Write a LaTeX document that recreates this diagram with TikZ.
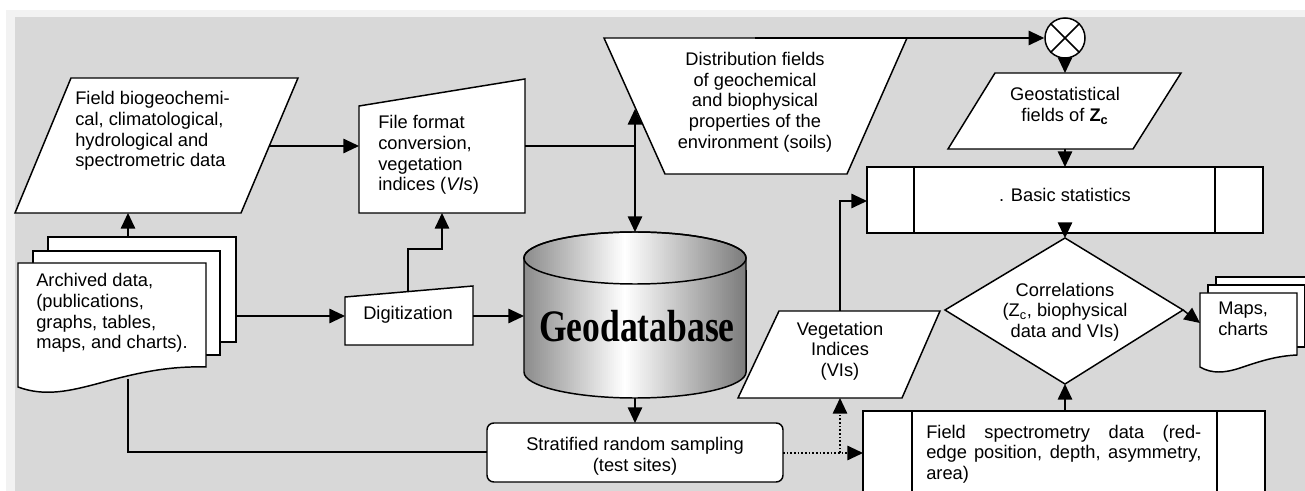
\documentclass[tikz,border=0pt]{standalone}
\usepackage{fontspec}
\setmainfont{Liberation Sans}
\newfontfamily\geofont{Liberation Serif}
\usetikzlibrary{positioning,calc}
\usetikzlibrary{arrows.meta}

\definecolor{panelgray}{HTML}{D8D8D8}
\definecolor{stripgray}{HTML}{F2F2F2}

\tikzset{
   shapeline/.style={draw=black, line width=1.05pt, fill=white},
   txt/.style={inner sep=0pt, font=\fontsize{13}{14.7}\selectfont, align=center},
   ltxt/.style={txt, align=left},
   flowline/.style={line width=1.05pt},
   flowarrow/.style={flowline, -{Triangle[length=0.39cm,width=0.36cm]}},
   twoway/.style={flowline, {Triangle[length=0.39cm,width=0.36cm]}-{Triangle[length=0.39cm,width=0.36cm]}},
   dotarrow/.style={flowarrow, dash pattern=on 1.3pt off 1.3pt},
   drum/.style={x radius=2.775cm, y radius=0.65cm},
}

\begin{document}
\begin{tikzpicture}[x=0.025cm, y=-0.025cm]
   \useasboundingbox (0,0) rectangle (1305,491);
   \fill[white]      (0,0)   rectangle (1305,491);
   \fill[stripgray]  (6,10)  rectangle (1305,491);
   \fill[panelgray]  (15,17) rectangle (1305,491);
   \clip (0,0) rectangle (1305,491);

   % field data
   \draw[shapeline] (71,78) -- (298,78) -- (241,213) -- (15,213) -- cycle;
   \node[ltxt, anchor=west] (bio) at (75,131)
      {Field biogeochemi-\\cal, climatological,\\hydrological and\\spectrometric data};
   \coordinate (bio-e) at (270,146);
   \coordinate (bio-s) at (128,213);

   % file format conversion
   \draw[shapeline] (359,106) -- (525,79) -- (525,213) -- (359,213) -- cycle;
   \node[ltxt, anchor=west] (fmt) at (378,155)
      {File format\\conversion,\\vegetation\\indices (\textit{VI}s)};
   \coordinate (fmt-w) at (359,146);
   \coordinate (fmt-e) at (525,146);
   \coordinate (fmt-s) at (442,213);

   % archived data (three sheets)
   \draw[shapeline] (48,237) rectangle (236,342);
   \draw[shapeline] (33,251) rectangle (220,355);
   \draw[shapeline] (18,263) -- (206,263) -- (206,367)
      .. controls (170,366) and (140,372) .. (100,383)
      .. controls (70,391) and (45,397) .. (18,387) -- cycle;
   \node[ltxt, anchor=west] (arch) at (36,313)
      {Archived data,\\(publications,\\graphs, tables,\\maps, and charts).};
   \coordinate (arch-n) at (128,237);
   \coordinate (arch-e) at (236,316);
   \coordinate (arch-s) at (128,379);

   % digitization
   \draw[shapeline] (345,297) -- (473,286) -- (473,345) -- (345,345) -- cycle;
   \node[txt] (dig) at (408,315) {Digitization};
   \coordinate (dig-w)  at (345,316);
   \coordinate (dig-e)  at (473,316);
   \coordinate (dig-n)  at (408,292);
   \coordinate (dig-up) at (408,249);

   % geodatabase, grey drum lit from the left
   \begin{scope}
      \clip (524,258) -- (524,372) arc[start angle=180, end angle=360, drum]
         -- (746,258) arc[start angle=0, end angle=180, drum] -- cycle;
      \foreach \i in {0,...,111} {
         \pgfmathsetmacro\t{\i/111}
         \pgfmathsetmacro\pc{\t<0.45 ? 55+45*\t/0.45 : 100-52*(\t-0.45)/0.55}
         \fill[white!\pc!black] ({524+2*\i},225) rectangle ({526.6+2*\i},402);
      }
   \end{scope}
   \draw[flowline] (524,258) -- (524,372) arc[start angle=180, end angle=360, drum]
      -- (746,258) arc[start angle=0, end angle=180, drum] -- cycle;
   \draw[flowline] (635,258) ellipse [drum];
   \node[inner sep=0pt, anchor=base, xscale=0.79,
         font=\geofont\fontsize{32}{34}\selectfont\bfseries] (geo) at (637,342) {Geodatabase};
   \coordinate (geo-n) at (635,232);
   \coordinate (geo-s) at (635,398);
   \coordinate (geo-w) at (524,316);

   % distribution fields
   \draw[shapeline] (604,38) -- (907,38) -- (847,174) -- (665,174) -- cycle;
   \node[txt] (dist) at (755,102)
      {Distribution fields\\of geochemical\\and biophysical\\properties of the\\environment (soils)};
   \coordinate (dist-n) at (755,38);
   \coordinate (dist-w) at (635,109);

   % summing junction
   \node[circle, shapeline, minimum size=1cm, inner sep=0pt] (sum) at (1065,38) {};
   \draw[flowline] (sum.north west) -- (sum.south east)
                   (sum.north east) -- (sum.south west);

   % geostatistical fields
   \draw[shapeline] (995,73) -- (1181,73) -- (1133,149) -- (948,149) -- cycle;
   \node[txt] (geost) at (1065,106)
      {Geostatistical\\fields of \textbf{Z}\textsubscript{\textbf{c}}};
   \coordinate (geost-n) at (1065,73);
   \coordinate (geost-s) at (1065,149);

   % basic statistics
   \draw[shapeline] (867,167) rectangle (1263,233);
   \draw[flowline] (914,167) -- (914,233) (1215,167) -- (1215,233);
   \node[txt] (stat) at (1065,195) {. Basic statistics};
   \coordinate (stat-n) at (1065,167);
   \coordinate (stat-s) at (1065,233);
   \coordinate (stat-w) at (867,201);

   % correlations
   \draw[shapeline] (1065,238) -- (1183,310) -- (1065,384) -- (945,310) -- cycle;
   \node[txt] (corr) at (1065,312)
      {Correlations\\(Z\textsubscript{c}, biophysical\\data and VIs)};
   \coordinate (corr-n) at (1065,238);
   \coordinate (corr-s) at (1065,384);
   \coordinate (corr-e) at (1183,310);

   % maps and charts (three sheets)
   \draw[shapeline] (1216,277) rectangle (1313,339);
   \draw[shapeline] (1208,285) rectangle (1305,347);
   \draw[shapeline] (1200,293) -- (1297,293) -- (1297,355)
      .. controls (1275,356) and (1258,362) .. (1240,368)
      .. controls (1225,373) and (1212,374) .. (1200,367) -- cycle;
   \node[ltxt, anchor=west] (maps) at (1218,319) {Maps,\\charts};
   \coordinate (maps-w) at (1200,323);

   % vegetation indices
   \draw[shapeline] (779,311) -- (940,311) -- (902,398) -- (738,398) -- cycle;
   \node[txt] (veg) at (840,351) {Vegetation\\Indices\\(VIs)};
   \coordinate (veg-n) at (840,311);
   \coordinate (veg-s) at (840,398);

   % sampling
   \draw[shapeline, rounded corners=0.17cm] (487,423) rectangle (783,482);
   \node[txt] (samp) at (635,456) {Stratified random sampling\\(test sites)};
   \coordinate (samp-n) at (635,423);
   \coordinate (samp-w) at (487,452);
   \coordinate (samp-e) at (783,453);
   \coordinate (dot-j)  at (840,453);

   % field spectrometry
   \draw[shapeline] (863,411) rectangle (1265,500);
   \draw[flowline] (912,411) -- (912,500) (1217,411) -- (1217,500);
   \node[txt, align=justify, text width=6.875cm, anchor=west] (spec) at (926,454)
      {Field spectrometry data (red-\linebreak edge position, depth, asymmetry,\linebreak area)};
   \coordinate (spec-n) at (1065,411);
   \coordinate (spec-w) at (863,453);

   % connectors
   \draw[flowarrow] (bio-e) -- (fmt-w);
   \draw[flowarrow] (arch-n) -- (bio-s);
   \draw[flowarrow] (arch-e) -- (dig-w);
   \draw[flowline]  (arch-s) |- (samp-w);
   \draw[flowarrow] (dig-n) -- (dig-up) -| (fmt-s);
   \draw[flowarrow] (dig-e) -- (geo-w);
   \draw[flowline]  (fmt-e) -- (fmt-e -| geo-n);
   \draw[twoway]    (dist-w) -- (geo-n);
   \draw[flowarrow] (dist-n) -- (sum);
   \draw[flowarrow] (sum) -- (geost-n);
   \draw[flowarrow] (geost-s) -- (stat-n);
   \draw[flowarrow] (stat-s) -- (corr-n);
   \draw[flowarrow] (corr-e) -- (maps-w);
   \draw[flowarrow] (spec-n) -- (corr-s);
   \draw[flowarrow] (veg-n) |- (stat-w);
   \draw[flowarrow] (geo-s) -- (samp-n);
   \draw[dotarrow]  (samp-e) -- (spec-w);
   \draw[dotarrow]  (dot-j) -- (veg-s);
\end{tikzpicture}
\end{document}
